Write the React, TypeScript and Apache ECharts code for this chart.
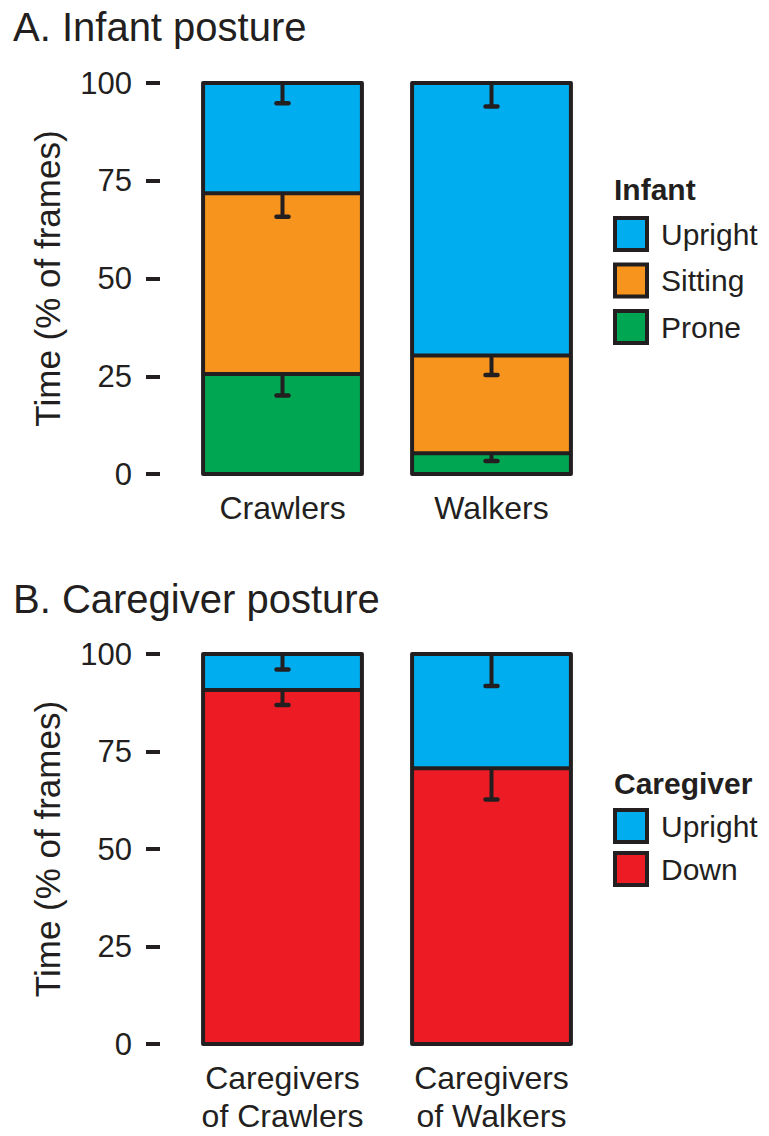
import React, { useEffect, useRef } from "react";
import * as echarts from "echarts";

// ---------- data ----------
const infantCategories = ["Crawlers", "Walkers"];
const infantProne = [25.6, 5.3];
const infantSitting = [46.2, 25.0];
const infantUpright = [28.2, 69.7];
const infantProneErr = [5.5, 2.0];
const infantSittingErr = [6.0, 5.0];
const infantUprightErr = [5.2, 6.0];

const caregiverCategories = ["Caregivers\nof Crawlers", "Caregivers\nof Walkers"];
const caregiverDown = [90.8, 70.7];
const caregiverUpright = [9.2, 29.3];
const caregiverDownErr = [3.9, 8.0];
const caregiverUprightErr = [4.0, 8.2];

const yTickValues = [0, 25, 50, 75, 100];
const infantLegend = ["Upright", "Sitting", "Prone"];
const caregiverLegend = ["Upright", "Down"];

// ---------- style ----------
const INK = "#231f20";
const BLUE = "#00aeef";
const ORANGE = "#f7941d";
const GREEN = "#00a651";
const RED = "#ed1c24";
const FONT = "'Liberation Sans', Arial, Helvetica, sans-serif";
const BAR_FRAC = 0.76;

function errorData(layers: number[][], errs: number[][]) {
  const out: number[][] = [];
  const n = layers[0].length;
  for (let i = 0; i < n; i++) {
    let cum = 0;
    for (let k = 0; k < layers.length; k++) {
      cum += layers[k][i];
      out.push([i, cum, cum - errs[k][i]]);
    }
  }
  return out;
}

function totalData(layers: number[][]) {
  const n = layers[0].length;
  const out: number[][] = [];
  for (let i = 0; i < n; i++) {
    let s = 0;
    for (const l of layers) s += l[i];
    out.push([i, s]);
  }
  return out;
}

function dividerData(layers: number[][]) {
  const n = layers[0].length;
  const out: number[][] = [];
  for (let i = 0; i < n; i++) {
    let s = 0;
    for (let k = 0; k < layers.length - 1; k++) {
      s += layers[k][i];
      out.push([i, s]);
    }
  }
  return out;
}

function renderError(params: any, api: any) {
  const top = api.coord([api.value(0), api.value(1)]);
  const low = api.coord([api.value(0), api.value(2)]);
  return {
    type: "group",
    children: [
      {
        type: "line",
        shape: { x1: top[0], y1: top[1], x2: low[0], y2: low[1] },
        style: { stroke: INK, lineWidth: 4 },
      },
      {
        type: "line",
        shape: { x1: low[0] - 6, y1: low[1], x2: low[0] + 6, y2: low[1] },
        style: { stroke: INK, lineWidth: 4.5, lineCap: "round" },
      },
    ],
  };
}

function renderOutline(params: any, api: any) {
  const bottom = api.coord([api.value(0), 0]);
  const top = api.coord([api.value(0), api.value(1)]);
  const w = api.size([1, 0])[0] * BAR_FRAC;
  return {
    type: "rect",
    shape: { x: bottom[0] - w / 2, y: top[1], width: w, height: bottom[1] - top[1] },
    style: { fill: "none", stroke: INK, lineWidth: 4, lineJoin: "round" },
  };
}

function renderDivider(params: any, api: any) {
  const p = api.coord([api.value(0), api.value(1)]);
  const w = api.size([1, 0])[0] * BAR_FRAC;
  return {
    type: "line",
    shape: { x1: p[0] - w / 2, y1: p[1], x2: p[0] + w / 2, y2: p[1] },
    style: { stroke: INK, lineWidth: 4 },
  };
}

const barBase = (name: string, color: string, data: number[], idx: number, stack: string) => ({
  type: "bar",
  name,
  stack,
  data,
  xAxisIndex: idx,
  yAxisIndex: idx,
  barWidth: BAR_FRAC * 100 + "%",
  itemStyle: { color, borderColor: INK, borderWidth: 0 },
  emphasis: { disabled: true },
});

const yAxisBase = (idx: number) => ({
  type: "value",
  gridIndex: idx,
  min: 0,
  max: 100,
  interval: 25,
  offset: 18,
  name: "Time (% of frames)",
  nameLocation: "middle",
  nameRotate: 90,
  nameGap: 95,
  nameTextStyle: { fontSize: 35, color: INK, fontFamily: FONT },
  axisLine: { show: false },
  axisTick: { show: true, length: 14, lineStyle: { color: INK, width: 4 } },
  splitLine: { show: false },
  axisLabel: {
    fontSize: 31,
    color: INK,
    margin: 28,
    fontFamily: FONT,
    formatter: (v: number) => (yTickValues.includes(v) ? String(v) : ""),
  },
});

const xAxisBase = (idx: number, data: string[]) => ({
  type: "category",
  gridIndex: idx,
  data,
  axisLine: { show: false },
  axisTick: { show: false },
  axisLabel: { interval: 0, fontSize: 32, color: INK, margin: 15, lineHeight: 38, fontFamily: FONT },
});

const customBase = (name: string, idx: number, z: number, renderItem: any, data: number[][], y: any) => ({
  type: "custom",
  name,
  xAxisIndex: idx,
  yAxisIndex: idx,
  z,
  renderItem,
  encode: { x: 0, y },
  data,
});

export default function App() {
  const ref = useRef<HTMLDivElement>(null);
  useEffect(() => {
    document.body.style.margin = "0";
    const chart = echarts.init(ref.current!, undefined, { renderer: "svg" });
    const legendText = { fontSize: 30, color: INK, fontFamily: FONT, padding: [0, 0, 0, 9] };
    const infantLayers = [infantProne, infantSitting, infantUpright];
    const caregiverLayers = [caregiverDown, caregiverUpright];
    chart.setOption({
      animation: false,
      backgroundColor: "#ffffff",
      textStyle: { fontFamily: FONT, color: INK },
      title: [
        { text: "A. Infant posture", left: 13, top: 7, padding: 0, textStyle: { fontSize: 40, fontWeight: "normal", color: INK, fontFamily: FONT } },
        { text: "B. Caregiver posture", left: 13, top: 579, padding: 0, textStyle: { fontSize: 40, fontWeight: "normal", color: INK, fontFamily: FONT } },
        { text: "Infant", left: 614, top: 174, padding: 0, textStyle: { fontSize: 30, fontWeight: "bold", color: INK, fontFamily: FONT } },
        { text: "Caregiver", left: 614, top: 768, padding: 0, textStyle: { fontSize: 30, fontWeight: "bold", color: INK, fontFamily: FONT } },
      ],
      legend: [
        {
          data: infantLegend,
          orient: "vertical",
          left: 613,
          top: 216,
          padding: 0,
          itemWidth: 32,
          itemHeight: 32,
          itemGap: 10.5,
          icon: "rect",
          selectedMode: false,
          itemStyle: { borderColor: INK, borderWidth: 4 },
          textStyle: legendText,
        },
        {
          data: caregiverLegend,
          orient: "vertical",
          left: 613,
          top: 808,
          padding: 0,
          itemWidth: 32,
          itemHeight: 32,
          itemGap: 7,
          icon: "rect",
          selectedMode: false,
          itemStyle: { borderColor: INK, borderWidth: 4 },
          textStyle: legendText,
        },
      ],
      grid: [
        { left: 178, width: 418, top: 83, height: 391 },
        { left: 178, width: 418, top: 654, height: 390 },
      ],
      xAxis: [xAxisBase(0, infantCategories), xAxisBase(1, caregiverCategories)],
      yAxis: [yAxisBase(0), yAxisBase(1)],
      series: [
        barBase("Prone", GREEN, infantProne, 0, "infant"),
        barBase("Sitting", ORANGE, infantSitting, 0, "infant"),
        barBase("Upright", BLUE, infantUpright, 0, "infant"),
        barBase("Down", RED, caregiverDown, 1, "caregiver"),
        barBase("Upright", BLUE, caregiverUpright, 1, "caregiver"),
        customBase("infantDividers", 0, 7, renderDivider, dividerData(infantLayers), 1),
        customBase("caregiverDividers", 1, 7, renderDivider, dividerData(caregiverLayers), 1),
        customBase("infantOutline", 0, 8, renderOutline, totalData(infantLayers), 1),
        customBase("caregiverOutline", 1, 8, renderOutline, totalData(caregiverLayers), 1),
        customBase("infantErr", 0, 10, renderError, errorData(infantLayers, [infantProneErr, infantSittingErr, infantUprightErr]), [1, 2]),
        customBase("caregiverErr", 1, 10, renderError, errorData(caregiverLayers, [caregiverDownErr, caregiverUprightErr]), [1, 2]),
      ],
    });
    return () => chart.dispose();
  }, []);
  return <div ref={ref} style={{ width: 769, height: 1136, position: "absolute", left: 0, top: 0 }} />;
}
